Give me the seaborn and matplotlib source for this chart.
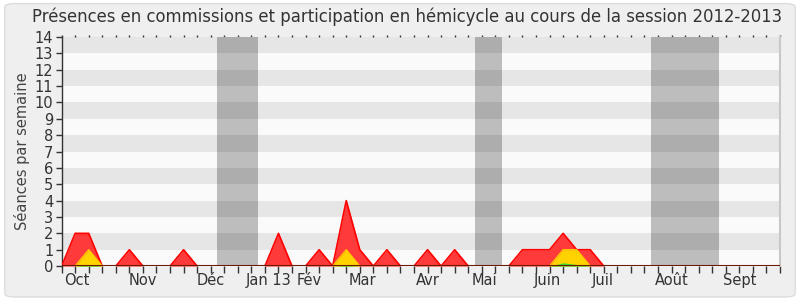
import numpy as np
import pandas as pd
import matplotlib
matplotlib.use("Agg")
import matplotlib.pyplot as plt
from matplotlib.patches import FancyBboxPatch
import seaborn as sns

# ---- data (weekly values, week 0 .. 53) ----
red = [0, 2, 2, 0, 0, 1, 0, 0, 0, 1, 0, 0, 0, 0, 0, 0, 2, 0, 0, 1,
       0, 4, 1, 0, 1, 0, 0, 1, 0, 1, 0, 0, 0, 0, 1, 1, 1, 2, 1, 1,
       0, 0, 0, 0, 0, 0, 0, 0, 0, 0, 0, 0, 0, 0]
yellow = [0, 0, 1, 0, 0, 0, 0, 0, 0, 0, 0, 0, 0, 0, 0, 0, 0, 0, 0, 0,
          0, 1, 0, 0, 0, 0, 0, 0, 0, 0, 0, 0, 0, 0, 0, 0, 0, 1, 1, 0,
          0, 0, 0, 0, 0, 0, 0, 0, 0, 0, 0, 0, 0, 0]
green = [0, 0, 0.1, 0, 0, 0, 0, 0, 0, 0, 0, 0, 0, 0, 0, 0, 0, 0, 0, 0,
         0, 0.05, 0, 0, 0, 0, 0, 0, 0, 0, 0, 0, 0, 0, 0, 0, 0, 0.2, 0.1, 0,
         0, 0, 0, 0, 0, 0, 0, 0, 0, 0, 0, 0, 0, 0]
holidays = [(11.5, 14.5), (30.5, 32.5), (43.5, 48.5)]
month_labels = ["Oct", "Nov", "Déc", "Jan 13", "Fév", "Mar", "Avr", "Mai",
                "Juin", "Juil", "Août", "Sept"]
month_pos = [1.12, 5.97, 10.98, 15.24, 18.26, 22.16, 27.05, 31.18,
             35.87, 39.93, 44.98, 50.04]
title = "Présences en commissions et participation en hémicycle au cours de la session 2012-2013"
ylabel = "Séances par semaine"

df = pd.DataFrame({"week": np.arange(len(red)), "red": red,
                   "yellow": yellow, "green": green})

sns.set_theme(style="white")
plt.rcParams["font.family"] = ["DejaVu Sans"]

fig = plt.figure(figsize=(8, 3), dpi=100)
fig.patch.set_facecolor("white")
fig.patches.append(FancyBboxPatch((0.006, 0.01), 0.988, 0.978,
                                  boxstyle="round,pad=0,rounding_size=0.012",
                                  transform=fig.transFigure, facecolor="#efefef",
                                  edgecolor="#dcdcdc", linewidth=1, zorder=-10))
ax = fig.add_axes([0.077, 0.113, 0.898, 0.764])
ax.set_facecolor("#fafafa")

ymax = 14
nweeks = len(red) - 1
# alternating row stripes
for r in range(ymax):
    if r % 2 == 1:
        ax.axhspan(r, r + 1, color="#e6e6e6", lw=0, zorder=0)
# holiday bands
for a, b in holidays:
    ax.axvspan(a, b, color="#bdbdbd", lw=0, zorder=0.5)
    for r in range(ymax):
        if r % 2 == 1:
            ax.fill_between([a, b], r, r + 1, color="#adadad", lw=0, zorder=0.6)

x = df["week"]
ax.fill_between(x, 0, df["red"], color="#ff3a3a", lw=0, zorder=2)
sns.lineplot(data=df, x="week", y="red", color="#ff0000", lw=1.2, ax=ax, zorder=3)
ax.fill_between(x, 0, df["yellow"], color="#ffd200", lw=0, zorder=4)
sns.lineplot(data=df, x="week", y="yellow", color="#ffcc00", lw=1, ax=ax, zorder=4.5)
ax.fill_between(x, 0, df["green"], color="#33dd33", lw=0, zorder=5)
ax.axhline(0, color="#6b1a00", lw=1.5, zorder=6)

ax.set_xlim(0, nweeks)
ax.set_ylim(0, ymax)
ax.set_yticks(range(0, ymax + 1))
ax.set_yticklabels([str(v) for v in range(0, ymax + 1)])
ax.set_xticks(month_pos)
ax.set_xticklabels(month_labels)
ax.set_xticks(np.arange(0, nweeks + 1), minor=True)
ax.tick_params(axis="x", which="major", length=0, pad=5, labelsize=10.5,
               colors="#333333")
ax.tick_params(axis="x", which="minor", length=5, width=1, color="#333333",
               direction="out", top=True, bottom=True)
ax.tick_params(axis="y", which="major", length=4, width=1, color="#333333",
               labelsize=10.5, labelcolor="#333333", left=True, pad=2)
# top minor ticks tiny
for t in ax.xaxis.get_minor_ticks():
    t.tick2line.set_markersize(1.5)

ax.set_xlabel("")
ax.set_ylabel(ylabel, fontsize=10.5, color="#444444", labelpad=3)
ax.spines["top"].set_visible(False)
ax.spines["left"].set_color("#333333")
ax.spines["left"].set_linewidth(1)
ax.spines["bottom"].set_visible(False)
ax.spines["right"].set_color("#c8c8c8")
ax.spines["right"].set_linewidth(1.5)

fig.text(0.509, 0.943, title, ha="center", va="center", fontsize=11.9,
         color="#333333")

fig.savefig("out.png", dpi=100, facecolor=fig.get_facecolor())
